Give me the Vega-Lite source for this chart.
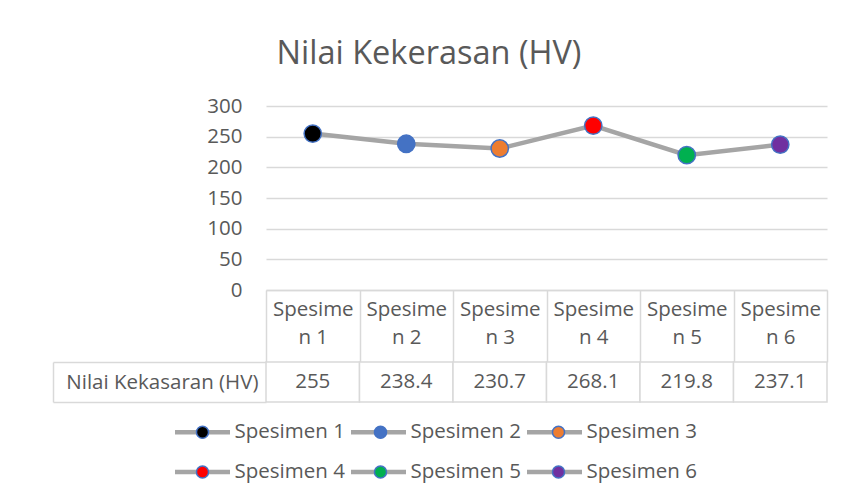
{
  "$schema": "https://vega.github.io/schema/vega-lite/v6.json",
  "background": "white",
  "padding": {"left": 52, "top": 37, "right": 19, "bottom": 10},
  "config": {
    "font": "Open Sans",
    "view": {"stroke": null},
    "legend": {"padding": 0}
  },
  "title": {
    "text": "Nilai Kekerasan (HV)",
    "fontSize": 32.5,
    "fontWeight": "normal",
    "color": "#595959",
    "frame": "bounds",
    "anchor": "middle",
    "baseline": "alphabetic",
    "dx": -11,
    "offset": 0
  },
  "data": {
    "values": [
      {"Spesimen": "Spesimen 1", "HV": 255, "Row": "Nilai Kekasaran (HV)"},
      {"Spesimen": "Spesimen 2", "HV": 238.4, "Row": "Nilai Kekasaran (HV)"},
      {"Spesimen": "Spesimen 3", "HV": 230.7, "Row": "Nilai Kekasaran (HV)"},
      {"Spesimen": "Spesimen 4", "HV": 268.1, "Row": "Nilai Kekasaran (HV)"},
      {"Spesimen": "Spesimen 5", "HV": 219.8, "Row": "Nilai Kekasaran (HV)"},
      {"Spesimen": "Spesimen 6", "HV": 237.1, "Row": "Nilai Kekasaran (HV)"}
    ]
  },
  "vconcat": [
    {
      "width": 561,
      "height": 184,
      "encoding": {
        "x": {
          "field": "Spesimen",
          "type": "nominal",
          "sort": null,
          "scale": {"type": "band", "paddingInner": 0, "paddingOuter": 0},
          "axis": {
            "title": null,
            "labelExpr": "[slice(datum.label,0,7), slice(datum.label,7)]",
            "labelAngle": 0,
            "labelFontSize": 20.5,
            "labelColor": "#595959",
            "labelLineHeight": 28,
            "labelBaseline": "top",
            "labelPadding": -63,
            "domainColor": "#D9D9D9",
            "domainWidth": 1.5,
            "tickBand": "extent",
            "tickSize": 72,
            "tickColor": "#D9D9D9",
            "tickWidth": 1.5,
            "grid": false
          }
        },
        "y": {
          "field": "HV",
          "type": "quantitative",
          "scale": {"domain": [0, 300], "nice": false},
          "axis": {
            "title": null,
            "values": [0, 50, 100, 150, 200, 250, 300],
            "labelFontSize": 20.5,
            "labelColor": "#595959",
            "labelPadding": 24,
            "domain": false,
            "ticks": false,
            "gridColor": "#D9D9D9",
            "gridWidth": 1.5
          }
        }
      },
      "layer": [
        {"mark": {"type": "line", "color": "#A5A5A5", "strokeWidth": 4.5}},
        {
          "mark": {"type": "point", "filled": false, "size": 60, "strokeWidth": 1},
          "encoding": {
            "stroke": {
              "field": "Spesimen",
              "type": "nominal",
              "scale": {
                "domain": ["Spesimen 1", "Spesimen 2", "Spesimen 3", "Spesimen 4", "Spesimen 5", "Spesimen 6"],
                "range": ["#A5A5A5", "#A5A5A5", "#A5A5A5", "#A5A5A5", "#A5A5A5", "#A5A5A5"]
              },
              "legend": {
                "title": null,
                "orient": "none",
                "direction": "horizontal",
                "legendX": -93.5,
                "legendY": 316,
                "columns": 3,
                "columnPadding": 3,
                "rowPadding": 19,
                "clipHeight": 20,
                "symbolType": "stroke",
                "symbolSize": 3025,
                "symbolStrokeWidth": 4.5,
                "symbolOpacity": 1,
                "labelOffset": 2,
                "labelFontSize": 20.5,
                "labelColor": "#595959",
                "labelLimit": 300,
                "zindex": 0
              }
            }
          }
        },
        {
          "mark": {"type": "point", "filled": true, "size": 300, "stroke": "#4472C4", "strokeWidth": 1.5, "opacity": 1},
          "encoding": {
            "fill": {
              "field": "Spesimen",
              "type": "nominal",
              "sort": null,
              "scale": {"range": ["#000000", "#4472C4", "#ED7D31", "#FF0000", "#00B050", "#7030A0"]},
              "legend": {
                "title": null,
                "orient": "none",
                "direction": "horizontal",
                "legendX": -93.5,
                "legendY": 316,
                "columns": 3,
                "columnPadding": 114,
                "rowPadding": 19,
                "clipHeight": 20,
                "symbolType": "M0,-0.22A0.22,0.22 0 1,1 0,0.22A0.22,0.22 0 1,1 0,-0.22Z",
                "symbolSize": 3025,
                "symbolStrokeColor": "#4472C4",
                "symbolStrokeWidth": 1.5,
                "symbolOffset": 1.5,
                "labelOffset": 5,
                "labelExpr": "''",
                "labelFontSize": 20.5,
                "labelLimit": 300,
                "zindex": 1
              }
            }
          }
        }
      ]
    },
    {
      "width": 561,
      "height": 40,
      "encoding": {
        "x": {
          "field": "Spesimen",
          "type": "nominal",
          "sort": null,
          "scale": {"type": "band", "paddingInner": 0, "paddingOuter": 0},
          "axis": null
        }
      },
      "layer": [
        {
          "mark": {"type": "rect", "fill": "white", "stroke": "#D9D9D9", "strokeWidth": 1.5},
          "encoding": {
            "y": {
              "field": "Row",
              "type": "nominal",
              "scale": {"paddingInner": 0, "paddingOuter": 0},
              "axis": {
                "title": null,
                "labelFontSize": 20.5,
                "labelColor": "#595959",
                "labelPadding": -205,
                "labelLimit": 230,
                "domain": false,
                "tickBand": "extent",
                "tickSize": 213,
                "tickColor": "#D9D9D9",
                "tickWidth": 1.5
              }
            }
          }
        },
        {
          "mark": {"type": "text", "fontSize": 20.5, "color": "#595959"},
          "encoding": {
            "y": {
              "field": "Row",
              "type": "nominal",
              "axis": {
                "orient": "left",
                "offset": 213,
                "title": null,
                "labels": false,
                "ticks": false,
                "domain": true,
                "domainColor": "#D9D9D9",
                "domainWidth": 1.5
              }
            },
            "text": {"field": "HV", "type": "quantitative"}
          }
        }
      ],
      "resolve": {"axis": {"y": "independent"}}
    }
  ],
  "spacing": 72,
  "bounds": "flush",
  "resolve": {"scale": {"fill": "independent", "stroke": "independent"}}
}
